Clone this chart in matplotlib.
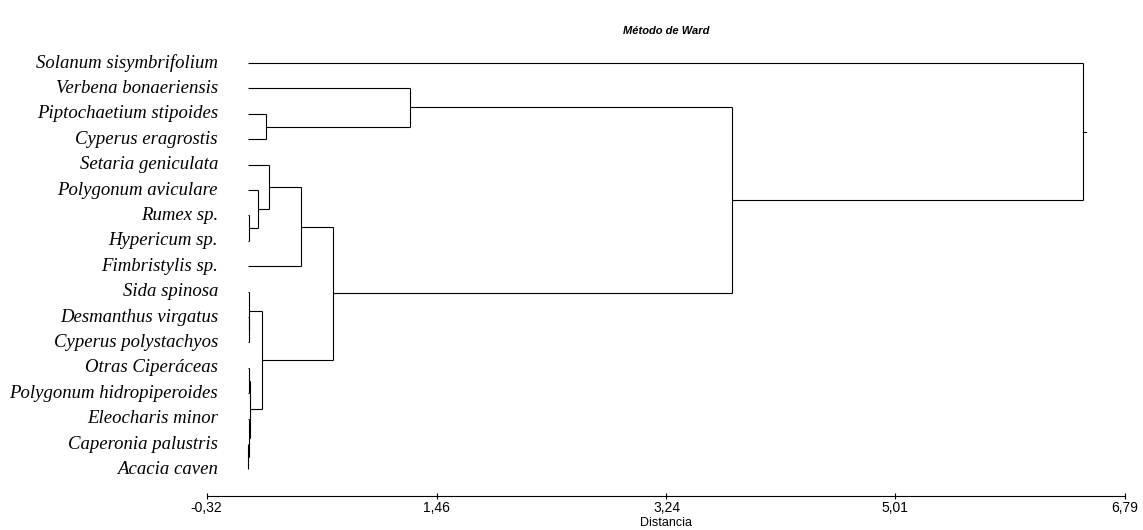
import matplotlib
matplotlib.use("Agg")
import matplotlib.pyplot as plt
import matplotlib.transforms as mtransforms

# ---- data ----
species = [
    "Solanum sisymbrifolium", "Verbena bonaeriensis", "Piptochaetium stipoides",
    "Cyperus eragrostis", "Setaria geniculata", "Polygonum aviculare",
    "Rumex sp.", "Hypericum sp.", "Fimbristylis sp.", "Sida spinosa",
    "Desmanthus virgatus", "Cyperus polystachyos", "Otras Ciperáceas",
    "Polygonum hidropiperoides", "Eleocharis minor", "Caperonia palustris",
    "Acacia caven",
]
# merges: (child a, child b, height); indices >= len(species) refer to earlier merges
merge_a = [6, 5, 4, 8, 10, 9, 15, 14, 12, 25, 22, 20, 2, 1, 30, 0]
merge_b = [7, 17, 18, 19, 11, 21, 16, 23, 13, 24, 26, 27, 3, 29, 28, 31]
merge_h = [0.005, 0.077, 0.165, 0.408, 0.004, 0.008, 0.003, 0.006, 0.007,
           0.012, 0.111, 0.658, 0.142, 1.257, 3.751, 6.468]
xticks = [-0.32, 1.46, 3.24, 5.01, 6.79]
xtick_labels = ["-0,32", "1,46", "3,24", "5,01", "6,79"]

# ---- figure ----
W, H = 1143, 530
fig = plt.figure(figsize=(W / 100, H / 100), dpi=100)
ax_left = 206.7 / W
ax_right = 1125.0 / W
ax_bottom = (H - 495.7) / H
ax_top = (H - 40.0) / H
ax = fig.add_axes([ax_left, ax_bottom, ax_right - ax_left, ax_top - ax_bottom])

n = len(species)
ypos = {i: float(i) for i in range(n)}
hgt = {i: 0.0 for i in range(n)}
lw = 0.8
col = "black"
for k, (a, b, h) in enumerate(zip(merge_a, merge_b, merge_h)):
    node = n + k
    ya, yb = ypos[a], ypos[b]
    ax.plot([hgt[a], h], [ya, ya], color=col, lw=lw, solid_capstyle="butt")
    ax.plot([hgt[b], h], [yb, yb], color=col, lw=lw, solid_capstyle="butt")
    ax.plot([h, h], [ya, yb], color=col, lw=lw, solid_capstyle="butt")
    ypos[node] = (ya + yb) / 2
    hgt[node] = h
root = n + len(merge_h) - 1
ax.plot([hgt[root], hgt[root] + 0.02], [ypos[root], ypos[root]], color=col, lw=lw)

ax.set_xlim(-0.32, 6.79)
ax.set_ylim((495.7 - 63) / 25.4, (40 - 63) / 25.4)

for s in ["top", "right", "left"]:
    ax.spines[s].set_visible(False)
ax.spines["bottom"].set_linewidth(0.8)
ax.set_yticks([])
ax.set_xticks(xticks)
ax.set_xticklabels(xtick_labels, fontfamily="Liberation Sans", fontsize=10)
ax.tick_params(axis="x", direction="inout", length=4, width=0.8, pad=2)
ax.set_xlabel("Distancia", fontfamily="Liberation Sans", fontsize=9, labelpad=1)
ax.set_title("Método de Ward", fontfamily="Liberation Sans", fontsize=8,
             fontweight="bold", fontstyle="italic", pad=4)

trans = mtransforms.blended_transform_factory(ax.transAxes, ax.transData)
xlab = (218.0 - 206.7) / (1125.0 - 206.7)
for i, name in enumerate(species):
    ax.text(xlab, i, name, transform=trans, ha="right", va="center",
            fontfamily="Liberation Serif", fontstyle="italic", fontsize=13.5)

fig.savefig("out.png", dpi=100)
